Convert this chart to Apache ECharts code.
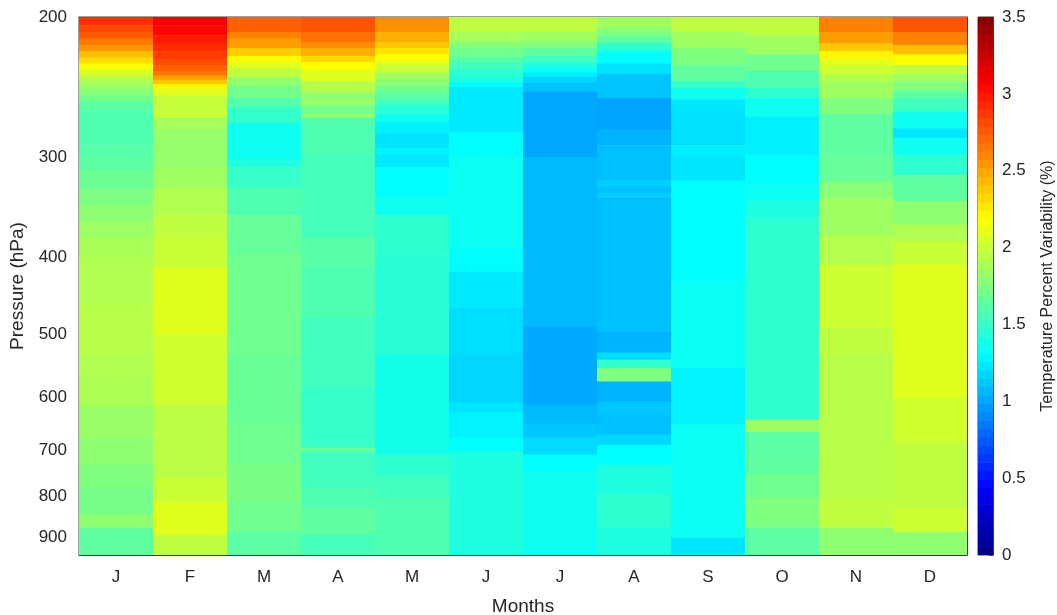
<!DOCTYPE html>
<html>
<head>
<meta charset="utf-8">
<script src="https://cdn.jsdelivr.net/npm/echarts@6/dist/echarts.min.js"></script>
<style>
  html, body { margin: 0; padding: 0; background: #fff; }
  #main { width: 1057px; height: 615px; }
</style>
</head>
<body>
<div id="main"></div>
<script>
// months on the x axis
const months = ['J', 'F', 'M', 'A', 'M', 'J', 'J', 'A', 'S', 'O', 'N', 'D']
// pressure ticks (hPa) and plotted range
const pressureTicks = [200, 300, 400, 500, 600, 700, 800, 900]
const pTop = 200
const pBottom = 947

// each profile: [pressure where the layer starts (hPa), variability %]
// a layer runs down to the start of the next one (last one to pBottom)
const jan = [[200, 2.9], [205, 2.82], [209, 2.75], [213, 2.65], [217, 2.55], [221, 2.42], [225, 2.3], [229, 2.18], [233, 2.05], [237, 1.95], [241, 1.87], [246, 1.78], [251, 1.7], [256, 1.63], [262, 1.58], [290, 1.61], [300, 1.63], [312, 1.68], [328, 1.74], [345, 1.8], [362, 1.85], [380, 1.89], [400, 1.92], [460, 1.94], [531, 1.92], [565, 1.9], [615, 1.84], [676, 1.8], [730, 1.75], [780, 1.72], [843, 1.8], [876, 1.64]]
const feb = [[200, 3.1], [205, 3.05], [211, 2.97], [216, 2.92], [221, 2.86], [226, 2.8], [230, 2.73], [234, 2.65], [237, 2.52], [240, 2.38], [243, 2.22], [246, 2.1], [251, 1.98], [264, 2.03], [267, 1.88], [277, 1.83], [310, 1.86], [328, 1.92], [355, 1.97], [379, 2.0], [413, 2.08], [501, 2.03], [614, 1.95], [758, 2.0], [812, 2.08], [894, 1.97]]
const mar = [[200, 2.73], [209, 2.62], [213, 2.52], [219, 2.36], [224, 2.2], [228, 2.08], [232, 1.97], [238, 1.82], [244, 1.71], [253, 1.59], [260, 1.48], [272, 1.36], [302, 1.42], [309, 1.5], [328, 1.58], [355, 1.66], [398, 1.7], [531, 1.67], [650, 1.7], [730, 1.73], [812, 1.7], [886, 1.62]]
const apr = [[200, 2.78], [209, 2.68], [215, 2.58], [219, 2.47], [224, 2.32], [228, 2.19], [233, 2.08], [241, 1.93], [249, 1.8], [255, 1.86], [258, 1.72], [265, 1.8], [268, 1.58], [298, 1.55], [379, 1.61], [413, 1.58], [477, 1.53], [584, 1.5], [695, 1.68], [703, 1.53], [780, 1.58], [827, 1.64], [894, 1.55]]
const may = [[200, 2.57], [209, 2.47], [215, 2.38], [219, 2.28], [223, 2.19], [227, 2.08], [230, 2.0], [235, 1.88], [239, 1.8], [244, 1.7], [249, 1.62], [254, 1.53], [258, 1.45], [265, 1.36], [271, 1.27], [280, 1.22], [292, 1.27], [298, 1.24], [309, 1.31], [337, 1.36], [355, 1.47], [398, 1.45], [531, 1.38], [709, 1.47], [751, 1.53], [803, 1.58]]
const jun = [[200, 1.97], [209, 1.88], [215, 1.78], [219, 1.7], [225, 1.6], [228, 1.53], [233, 1.46], [237, 1.42], [241, 1.32], [245, 1.24], [279, 1.31], [298, 1.35], [390, 1.31], [418, 1.24], [464, 1.2], [531, 1.17], [609, 1.22], [628, 1.27], [675, 1.31], [703, 1.42]]
const jul = [[200, 1.97], [209, 1.86], [215, 1.75], [219, 1.64], [224, 1.53], [228, 1.42], [232, 1.33], [235, 1.25], [238, 1.17], [242, 1.1], [248, 1.01], [300, 1.07], [490, 1.02], [614, 1.07], [650, 1.12], [675, 1.19], [709, 1.31], [745, 1.36]]
const aug = [[200, 1.86], [207, 1.75], [212, 1.62], [216, 1.47], [220, 1.38], [222, 1.31], [229, 1.21], [236, 1.11], [253, 1.0], [277, 1.05], [290, 1.1], [321, 1.15], [327, 1.1], [333, 1.15], [337, 1.1], [497, 1.05], [528, 1.2], [539, 1.48], [552, 1.75], [574, 1.05], [608, 1.12], [632, 1.1], [669, 1.18], [689, 1.31], [730, 1.42], [796, 1.47], [876, 1.42]]
const sep = [[200, 1.97], [209, 1.86], [219, 1.75], [230, 1.64], [241, 1.5], [246, 1.36], [254, 1.23], [264, 1.21], [290, 1.26], [298, 1.23], [321, 1.31], [430, 1.35], [552, 1.27], [650, 1.35], [902, 1.23]]
const oct = [[200, 1.97], [211, 1.86], [223, 1.7], [234, 1.58], [246, 1.47], [253, 1.36], [267, 1.26], [298, 1.31], [325, 1.35], [341, 1.42], [358, 1.47], [641, 1.86], [664, 1.62], [709, 1.64], [751, 1.7], [803, 1.75], [876, 1.62]]
const nov = [[200, 2.62], [209, 2.52], [216, 2.38], [221, 2.22], [226, 2.1], [230, 2.02], [236, 1.93], [241, 1.86], [253, 1.75], [265, 1.64], [298, 1.66], [322, 1.78], [337, 1.86], [376, 1.93], [410, 2.02], [491, 1.97], [531, 1.94], [803, 1.97], [876, 1.8]]
const dec = [[200, 2.78], [209, 2.62], [217, 2.41], [223, 2.19], [230, 1.97], [236, 1.87], [241, 1.75], [248, 1.62], [253, 1.53], [263, 1.36], [276, 1.23], [284, 1.36], [298, 1.47], [316, 1.64], [341, 1.8], [365, 1.92], [383, 2.0], [410, 2.08], [602, 2.03], [683, 1.97], [827, 2.02], [886, 1.8]]
const profiles = [jan, feb, mar, apr, may, jun, jul, aug, sep, oct, nov, dec]

// colour scale (jet) and colorbar ticks
const jetColors = ['#000080', '#0000ff', '#0080ff', '#00ffff', '#80ff80', '#ffff00', '#ff8000', '#ff0000', '#800000']
const cMin = 0
const cMax = 3.5
const cLevels = 64

// cells: [month, ln(top), ln(bottom), value]
const cells = []
profiles.forEach((prof, m) => {
  prof.forEach((layer, i) => {
    const next = i + 1 < prof.length ? prof[i + 1][0] : pBottom
    cells.push([m, Math.log(layer[0]), Math.log(next), layer[1]])
  })
})

// colorbar cells: [0, lo, hi, value]
const barCells = []
const step = (cMax - cMin) / cLevels
for (let i = 0; i < cLevels; i++) {
  barCells.push([0, cMin + i * step, cMin + (i + 1) * step, cMin + (i + 0.5) * step])
}

function renderCell (params, api) {
  const a = api.coord([api.value(0), api.value(1)])
  const b = api.coord([api.value(0), api.value(2)])
  const w = api.size([1, 0])[0]
  const y0 = Math.min(a[1], b[1])
  const h = Math.abs(b[1] - a[1])
  return {
    type: 'rect',
    shape: { x: a[0] - w / 2, y: y0 - 0.3, width: w, height: h + 0.6 },
    style: { fill: api.visual('color') }
  }
}

const font = '"Liberation Sans", Arial, Helvetica, sans-serif'
const ink = '#262626'
const frame = '#3c3c3c'
const tickStyle = { show: true, inside: true, length: 6, lineStyle: { color: frame, width: 1 } }

const myEcharts = echarts.init(document.getElementById('main'))
const option = {
  backgroundColor: '#fff',
  animation: false,
  textStyle: { fontFamily: font },
  grid: [
    { left: 79, top: 17, width: 888, height: 538, outerBoundsMode: 'none', containLabel: false, show: true, borderColor: frame, borderWidth: 1, backgroundColor: 'transparent' },
    { left: 978, top: 17, width: 15, height: 538, outerBoundsMode: 'none', containLabel: false, show: true, borderColor: frame, borderWidth: 1, backgroundColor: 'transparent' }
  ],
  visualMap: {
    type: 'continuous',
    show: false,
    min: cMin,
    max: cMax,
    dimension: 3,
    seriesIndex: [0, 1],
    inRange: { color: jetColors }
  },
  xAxis: [
    {
      gridIndex: 0,
      type: 'category',
      data: months,
      position: 'bottom',
      boundaryGap: true,
      axisLine: { show: true, lineStyle: { color: frame } },
      axisTick: { ...tickStyle, alignWithLabel: true },
      axisLabel: { color: ink, fontSize: 17, margin: 14, fontFamily: font },
      name: 'Months',
      nameLocation: 'middle',
      nameGap: 42,
      nameTextStyle: { color: ink, fontSize: 19, fontFamily: font },
      splitLine: { show: false }
    },
    {
      gridIndex: 0,
      type: 'category',
      data: months,
      position: 'top',
      axisLine: { show: true, lineStyle: { color: frame } },
      axisTick: { ...tickStyle, alignWithLabel: true },
      axisLabel: { show: false },
      splitLine: { show: false }
    },
    {
      gridIndex: 1,
      type: 'category',
      data: ['bar'],
      show: false
    }
  ],
  yAxis: [
    {
      gridIndex: 0,
      type: 'value',
      inverse: true,
      min: Math.log(pTop),
      max: Math.log(pBottom),
      position: 'left',
      axisLine: { show: true, lineStyle: { color: frame } },
      axisTick: { ...tickStyle, customValues: pressureTicks.map(Math.log) },
      axisLabel: {
        color: ink,
        fontSize: 17,
        margin: 12,
        fontFamily: font,
        customValues: pressureTicks.map(Math.log),
        formatter: v => String(Math.round(Math.exp(v)))
      },
      splitLine: { show: false },
      name: 'Pressure (hPa)',
      nameLocation: 'middle',
      nameRotate: 90,
      nameGap: 46,
      nameTextStyle: { color: ink, fontSize: 19, fontFamily: font }
    },
    {
      gridIndex: 0,
      type: 'value',
      inverse: true,
      min: Math.log(pTop),
      max: Math.log(pBottom),
      position: 'right',
      axisLine: { show: true, lineStyle: { color: frame } },
      axisTick: { ...tickStyle, customValues: pressureTicks.map(Math.log) },
      axisLabel: { show: false, customValues: pressureTicks.map(Math.log) },
      splitLine: { show: false }
    },
    {
      gridIndex: 1,
      type: 'value',
      min: cMin,
      max: cMax,
      interval: 0.5,
      position: 'right',
      axisLine: { show: true, lineStyle: { color: frame } },
      axisTick: { show: true, inside: true, length: 4, lineStyle: { color: frame } },
      axisLabel: { color: ink, fontSize: 17, margin: 9, fontFamily: font, formatter: v => String(v) },
      splitLine: { show: false },
      name: 'Temperature Percent Variability (%)',
      nameLocation: 'middle',
      nameRotate: 90,
      nameGap: 47,
      nameTextStyle: { color: ink, fontSize: 16, fontFamily: font }
    }
  ],
  series: [
    {
      name: 'variability',
      type: 'custom',
      xAxisIndex: 0,
      yAxisIndex: 0,
      renderItem: renderCell,
      encode: { x: 0, y: [1, 2] },
      clip: true,
      data: cells
    },
    {
      name: 'colorbar',
      type: 'custom',
      xAxisIndex: 2,
      yAxisIndex: 2,
      renderItem: renderCell,
      encode: { x: 0, y: [1, 2] },
      clip: true,
      data: barCells
    }
  ]
}
myEcharts.setOption(option)
</script>
</body>
</html>
